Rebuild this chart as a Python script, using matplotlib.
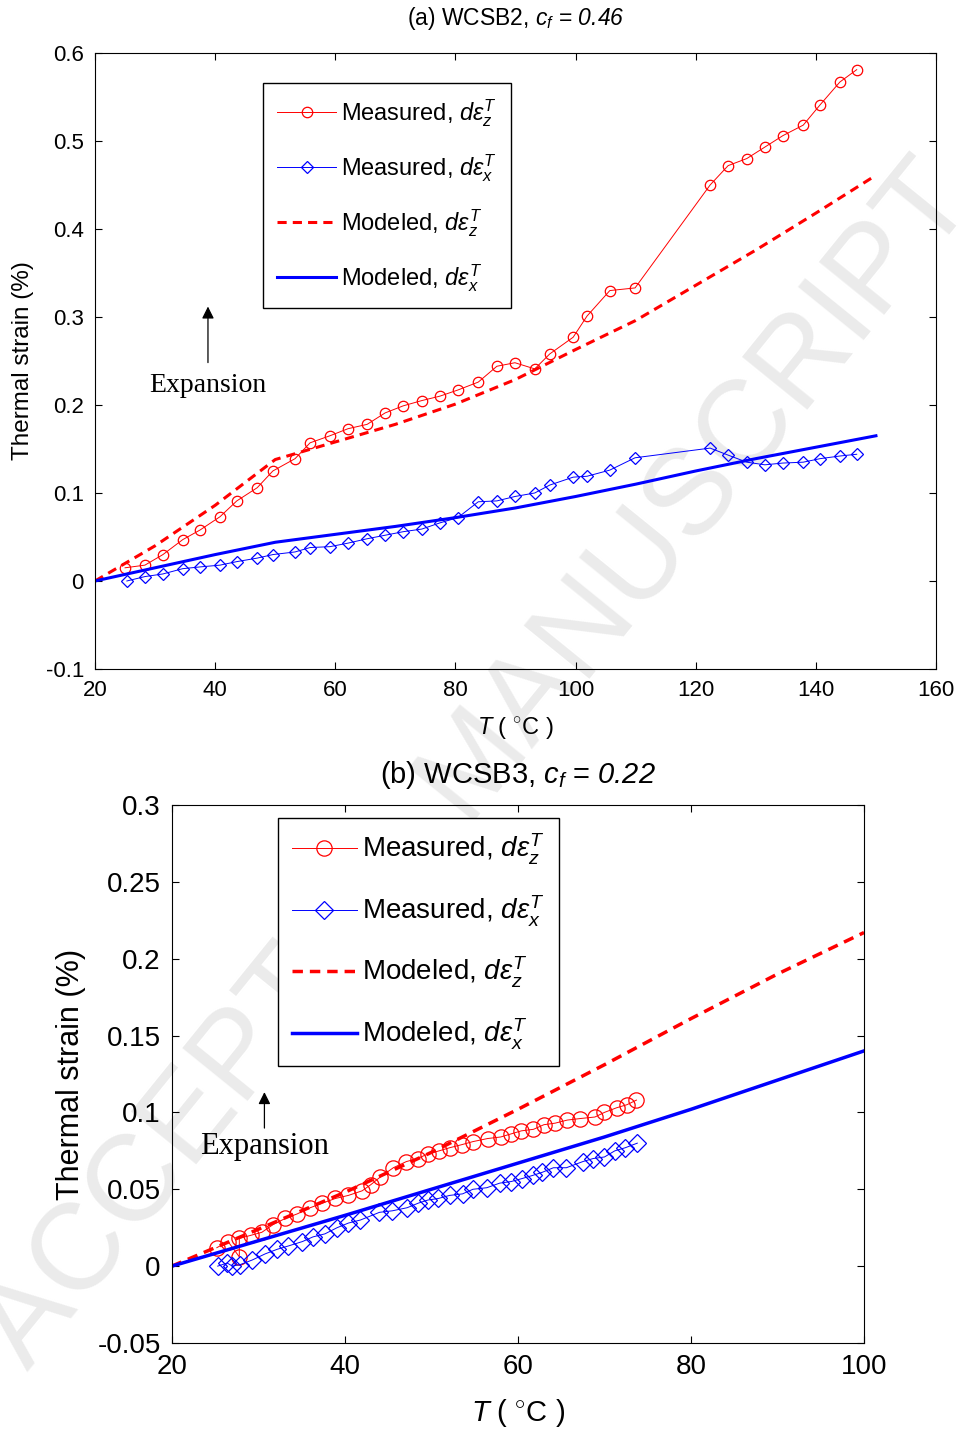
import matplotlib
matplotlib.use("Agg")
import matplotlib.pyplot as plt
from matplotlib.ticker import FuncFormatter

plt.rcParams['font.family'] = ['Liberation Sans', 'DejaVu Sans']
plt.rcParams['mathtext.fontset'] = 'custom'
plt.rcParams['mathtext.rm'] = 'Liberation Sans'
plt.rcParams['mathtext.it'] = 'Liberation Sans:italic'
plt.rcParams['mathtext.sf'] = 'Liberation Sans:italic'   # used for italic digits in titles
plt.rcParams['axes.unicode_minus'] = False

# ---- (a) WCSB2 ----
a_T_meas = [25.0, 28.3, 31.3, 34.6, 37.5, 40.8, 43.6, 47.0, 49.6, 53.3, 55.8, 59.1,
            62.1, 65.3, 68.3, 71.3, 74.4, 77.4, 80.4, 83.8, 86.9, 89.9, 93.2, 95.7,
            99.6, 101.9, 105.7, 109.9, 122.4, 125.4, 128.5, 131.5, 134.5, 137.9,
            140.7, 144.0, 146.8]
a_z_meas = [0.015, 0.018, 0.030, 0.047, 0.058, 0.073, 0.091, 0.106, 0.125, 0.139,
            0.157, 0.165, 0.173, 0.178, 0.191, 0.199, 0.205, 0.210, 0.217, 0.226,
            0.244, 0.248, 0.241, 0.258, 0.277, 0.301, 0.330, 0.333, 0.450, 0.472,
            0.480, 0.493, 0.506, 0.518, 0.541, 0.567, 0.581]
a_T_meas_x = [25.3, 28.3, 31.3, 34.6, 37.5, 40.8, 43.6, 47.0, 49.6, 53.3, 55.8, 59.1,
              62.1, 65.3, 68.3, 71.3, 74.4, 77.4, 80.4, 83.8, 86.9, 89.9, 93.2, 95.7,
              99.6, 101.9, 105.7, 109.9, 122.4, 125.4, 128.5, 131.5, 134.5, 137.9,
              140.7, 144.0, 146.8]
a_x_meas = [0.000, 0.005, 0.008, 0.014, 0.016, 0.018, 0.022, 0.026, 0.030, 0.033,
            0.038, 0.039, 0.043, 0.048, 0.052, 0.056, 0.059, 0.066, 0.072, 0.090,
            0.091, 0.096, 0.100, 0.109, 0.118, 0.119, 0.126, 0.140, 0.151, 0.143,
            0.135, 0.132, 0.134, 0.135, 0.139, 0.142, 0.144]
a_T_mod = [20, 30, 40, 50, 60, 70, 80, 90, 100, 110, 120, 130, 140, 150]
a_z_mod = [0.0, 0.040, 0.086, 0.138, 0.158, 0.178, 0.201, 0.229, 0.263, 0.296, 0.336,
           0.376, 0.418, 0.461]
a_x_mod = [0.0, 0.015, 0.030, 0.044, 0.053, 0.062, 0.072, 0.083, 0.096, 0.110, 0.125,
           0.139, 0.152, 0.165]

# ---- (b) WCSB3 ----
b_T_meas = [25.2, 26.5, 27.8, 27.8, 29.1, 30.4, 31.7, 33.1, 34.5, 36.0, 37.4, 38.9,
            40.4, 42.0, 43.0, 44.1, 45.6, 47.1, 48.4, 49.6, 50.9, 52.1, 53.5, 54.8,
            56.5, 58.0, 59.2, 60.4, 61.8, 63.0, 64.3, 65.7, 67.2, 68.9, 70.0, 71.4,
            72.6, 73.7]
b_z_meas = [0.012, 0.016, 0.006, 0.018, 0.020, 0.022, 0.027, 0.031, 0.034, 0.038,
            0.041, 0.044, 0.046, 0.049, 0.053, 0.058, 0.064, 0.068, 0.070, 0.073,
            0.075, 0.077, 0.079, 0.081, 0.083, 0.084, 0.086, 0.088, 0.089, 0.092,
            0.093, 0.095, 0.096, 0.097, 0.100, 0.103, 0.105, 0.108]
b_T_meas_x = [25.3, 26.4, 27.0, 27.9, 29.3, 30.8, 32.2, 33.4, 35.1, 36.3, 37.7, 39.1,
              40.4, 41.8, 44.0, 45.5, 47.2, 48.5, 49.6, 50.8, 52.1, 53.6, 54.8, 56.4,
              57.9, 59.2, 60.5, 61.7, 62.8, 64.1, 65.6, 67.5, 68.7, 70.0, 71.2, 72.4,
              73.8]
b_x_meas = [0.000, 0.002, 0.000, 0.001, 0.004, 0.008, 0.011, 0.013, 0.016, 0.019,
            0.021, 0.025, 0.028, 0.030, 0.035, 0.036, 0.038, 0.041, 0.043, 0.044,
            0.046, 0.047, 0.050, 0.051, 0.054, 0.055, 0.057, 0.059, 0.061, 0.064,
            0.064, 0.068, 0.070, 0.071, 0.075, 0.077, 0.080]
b_T_mod = [20, 30, 40, 50, 60, 70, 80, 90, 100]
b_z_mod = [0.0, 0.024, 0.048, 0.074, 0.102, 0.131, 0.161, 0.190, 0.217]
b_x_mod = [0.0, 0.0165, 0.033, 0.050, 0.067, 0.084, 0.102, 0.121, 0.140]

labels = [r'Measured, $d\varepsilon_z^T$', r'Measured, $d\varepsilon_x^T$',
          r'Modeled, $d\varepsilon_z^T$', r'Modeled, $d\varepsilon_x^T$']

fig = plt.figure(figsize=(9.6, 14.31), dpi=100)

# faint watermark, behind the (transparent) axes
fig.text(0.05, 0.03, 'ACCEPTED MANUSCRIPT', rotation=51, rotation_mode='anchor',
         ha='left', va='bottom', fontsize=88, color='#ebebeb', zorder=-5)


def draw_panel(ax, T_mz, mz, T_mx, mx, T_mod, zmod, xmod, fs, ms_o, ms_d, lw_mod):
    ax.set_facecolor('none')
    ax.plot(T_mz, mz, color='red', lw=0.7, marker='o', ms=ms_o, mfc='none', mew=0.9,
            label=labels[0])
    ax.plot(T_mx, mx, color='blue', lw=0.7, marker='D', ms=ms_d, mfc='none', mew=0.9,
            label=labels[1])
    ax.plot(T_mod, zmod, color='red', lw=lw_mod, ls=(0, (3, 2)), label=labels[2])
    ax.plot(T_mod, xmod, color='blue', lw=lw_mod, label=labels[3])
    ax.tick_params(direction='in', top=True, right=True, labelsize=fs, length=5,
                   width=0.8, pad=8)
    ax.yaxis.set_major_formatter(FuncFormatter(lambda v, p: '%g' % round(v, 3)))
    for s in ax.spines.values():
        s.set_linewidth(0.8)


ax1 = fig.add_axes([0.099, 0.5325, 0.876, 0.4305])
draw_panel(ax1, a_T_meas, a_z_meas, a_T_meas_x, a_x_meas, a_T_mod, a_z_mod, a_x_mod,
           16, 7.5, 6.5, 2.2)
ax1.set_xlim(20, 160)
ax1.set_ylim(-0.1, 0.6)
ax1.set_xticks(range(20, 161, 20))
ax1.set_title(r'(a) WCSB2, $c_f$ = $\mathsf{0.46}$', fontsize=16.5, pad=20)
ax1.set_xlabel(r'$T$ ( $^{\circ}$C )', fontsize=17, labelpad=10)
ax1.set_ylabel('Thermal strain (%)', fontsize=17.5, labelpad=8)
ax1.legend(loc='upper left', bbox_to_anchor=(0.2, 0.951), fontsize=17, fancybox=False,
           edgecolor='black', framealpha=1, labelspacing=0.98, handlelength=2.5,
           borderpad=0.6, handletextpad=0.2, borderaxespad=0)
ax1.annotate('', xy=(38.8, 0.315), xytext=(38.8, 0.245),
             arrowprops=dict(arrowstyle='-|>', color='black', lw=0.9, mutation_scale=18))
ax1.text(38.8, 0.222, 'Expansion', family='Liberation Serif', fontsize=20,
         ha='center', va='center')

ax2 = fig.add_axes([0.179, 0.0615, 0.721, 0.376])
draw_panel(ax2, b_T_meas, b_z_meas, b_T_meas_x, b_x_meas, b_T_mod, b_z_mod, b_x_mod,
           20, 11, 9.5, 2.5)
ax2.set_xlim(20, 100)
ax2.set_ylim(-0.05, 0.3)
ax2.set_xticks(range(20, 101, 20))
ax2.set_title(r'(b) WCSB3, $c_f$ = $\mathsf{0.22}$', fontsize=21, pad=16)
ax2.set_xlabel(r'$T$ ( $^{\circ}$C )', fontsize=21, labelpad=12)
ax2.set_ylabel('Thermal strain (%)', fontsize=22, labelpad=8)
ax2.legend(loc='upper left', bbox_to_anchor=(0.153, 0.976), fontsize=20, fancybox=False,
           edgecolor='black', framealpha=1, labelspacing=0.95, handlelength=2.35,
           borderpad=0.5, handletextpad=0.2, borderaxespad=0)
ax2.annotate('', xy=(30.7, 0.115), xytext=(30.7, 0.088),
             arrowprops=dict(arrowstyle='-|>', color='black', lw=0.9, mutation_scale=18))
ax2.text(30.7, 0.078, 'Expansion', family='Liberation Serif', fontsize=22,
         ha='center', va='center')

fig.savefig('out.png', dpi=100)
